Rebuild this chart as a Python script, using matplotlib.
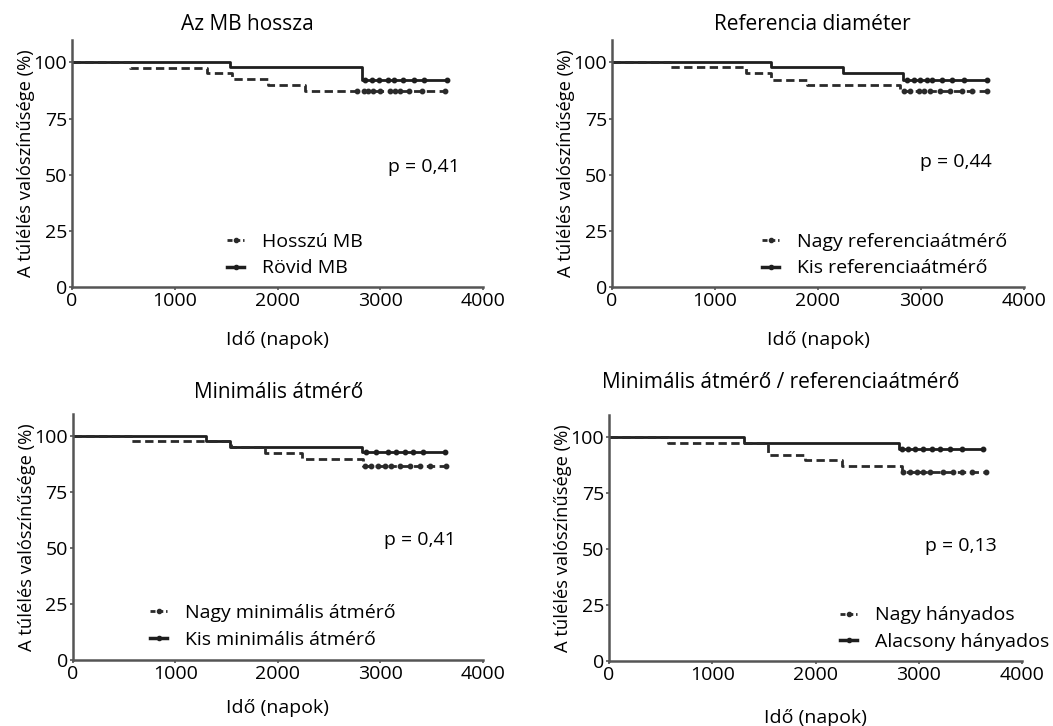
import matplotlib
matplotlib.use("Agg")
import matplotlib.pyplot as plt
from matplotlib.lines import Line2D

plt.rcParams['font.family'] = ['Open Sans', 'DejaVu Sans']

W, H = 1053, 726

titles = ["Az MB hossza", "Referencia diaméter", "Minimális átmérő",
          "Minimális átmérő / referenciaátmérő"]
legend_dashed = ["Hosszú MB", "Nagy referenciaátmérő", "Nagy minimális átmérő", "Nagy hányados"]
legend_solid = ["Rövid MB", "Kis referenciaátmérő", "Kis minimális átmérő", "Alacsony hányados"]
p_values = ["p = 0,41", "p = 0,44", "p = 0,41", "p = 0,13"]
xticks = [0, 1000, 2000, 3000, 4000]
yticks = [0, 25, 50, 75, 100]
ylabel = "A túlélés valószínűsége (%)"
xlabel = "Idő (napok)"

# Kaplan-Meier step data (event times, survival after event), last follow-up
solid_t = [[0, 1540, 2820], [0, 1543, 2243, 2825], [0, 1295, 1538, 2820], [0, 1304, 2809]]
solid_s = [[100, 97.8, 92.4], [100, 97.8, 95.1, 92.4], [100, 97.8, 95.2, 92.8], [100, 97.5, 94.8]]
solid_end = [3650, 3641, 3635, 3630]
solid_cens = [
    [2853, 2918, 2983, 3080, 3129, 3226, 3324, 3421, 3649],
    [2864, 2929, 2994, 3058, 3107, 3204, 3301, 3415, 3641],
    [2863, 2960, 3073, 3155, 3236, 3317, 3414, 3626],
    [2835, 2899, 2964, 3045, 3126, 3206, 3303, 3416, 3626],
]
dashed_t = [[0, 563, 1310, 1553, 1910, 2268], [0, 560, 1305, 1543, 1893, 2800],
            [0, 568, 1540, 1876, 2233, 2830], [0, 576, 1540, 1897, 2256, 2842]]
dashed_s = [[100, 97.6, 95.1, 92.6, 89.9, 87.2], [100, 97.8, 95.1, 92.4, 89.9, 87.2],
            [100, 97.8, 95.2, 92.5, 89.9, 86.9], [100, 97.5, 92.2, 89.7, 87.0, 84.3]]
dashed_end = [3632, 3641, 3642, 3655]
dashed_cens = [
    [2772, 2837, 2885, 2934, 2999, 3096, 3145, 3194, 3275, 3405, 3632],
    [2832, 2897, 2978, 3026, 3091, 3188, 3285, 3398, 3495, 3641],
    [2846, 2911, 2976, 3041, 3106, 3187, 3284, 3382, 3479, 3642],
    [2850, 2915, 2980, 3044, 3109, 3238, 3335, 3416, 3513, 3651],
]

# layout (pixels)
axes_px = [(72, 40, 483, 287), (612, 40, 1024, 287), (72.7, 414, 483, 660), (609, 415, 1022, 661)]
title_px = [(247, 25), (812, 25), (279, 392), (781, 383)]
p_pos = [(3077, 53.5), (2994, 55.6), (3031, 53.7), (3060, 51.2)]
leg_pos = [(0.377, 0.22), (0.364, 0.22), (0.188, 0.228), (0.559, 0.222)]
xlab_y = [-0.18, -0.18, -0.16, -0.195]

fig = plt.figure(figsize=(W / 100, H / 100), dpi=100)
line_col = '#1e1e1e'
dash_col = '#2a2a2a'
spine_col = '#555555'
fs = 14


def km_curve(t, s, end):
    xs = list(t) + [end]
    ys = list(s) + [s[-1]]
    return xs, ys


def surv_at(t, s, x):
    v = s[0]
    for ti, si in zip(t, s):
        if x >= ti:
            v = si
    return v


for i in range(4):
    x0, y0, x1, y1 = axes_px[i]
    ax = fig.add_axes([x0 / W, 1 - y1 / H, (x1 - x0) / W, (y1 - y0) / H])
    ax.set_xlim(0, 4000)
    ax.set_ylim(0, 110)
    for sp in ['top', 'right']:
        ax.spines[sp].set_visible(False)
    for sp in ['left', 'bottom']:
        ax.spines[sp].set_color(spine_col)
        ax.spines[sp].set_linewidth(1.8)
    ax.set_xticks(xticks)
    ax.set_yticks(yticks)
    ax.tick_params(length=2.5, width=1.2, color=spine_col, labelsize=fs, pad=1,
                   direction='out')

    xs, ys = km_curve(solid_t[i], solid_s[i], solid_end[i])
    ax.step(xs, ys, where='post', color=line_col, lw=2.0)
    cy = [surv_at(solid_t[i], solid_s[i], c) for c in solid_cens[i]]
    ax.plot(solid_cens[i], cy, ls='none', marker='o', ms=3.2, color=line_col)

    xs, ys = km_curve(dashed_t[i], dashed_s[i], dashed_end[i])
    ax.step(xs, ys, where='post', color=dash_col, lw=2.0, dashes=(3.0, 1.6))
    cy = [surv_at(dashed_t[i], dashed_s[i], c) for c in dashed_cens[i]]
    ax.plot(dashed_cens[i], cy, ls='none', marker='o', ms=3.2, color=dash_col)

    ax.text(p_pos[i][0], p_pos[i][1], p_values[i], fontsize=fs, ha='left', va='center')

    ax.set_ylabel(ylabel, fontsize=13.2)
    ax.yaxis.set_label_coords(-0.09, 0.5)
    ax.set_xlabel(xlabel, fontsize=fs)
    ax.xaxis.set_label_coords(0.5, xlab_y[i])

    handles = [
        Line2D([], [], color=dash_col, lw=2.0, dashes=(1.8, 1.0), marker='o', ms=3),
        Line2D([], [], color=line_col, lw=2.5, marker='o', ms=3),
    ]
    ax.legend(handles, [legend_dashed[i], legend_solid[i]], loc='upper left',
              bbox_to_anchor=leg_pos[i], frameon=False, fontsize=fs,
              handlelength=0.9, handletextpad=0.9, labelspacing=0.45,
              borderpad=0, borderaxespad=0)

    fig.text(title_px[i][0] / W, 1 - title_px[i][1] / H, titles[i], fontsize=15,
             ha='center', va='center')

fig.savefig('out.png', dpi=100)
